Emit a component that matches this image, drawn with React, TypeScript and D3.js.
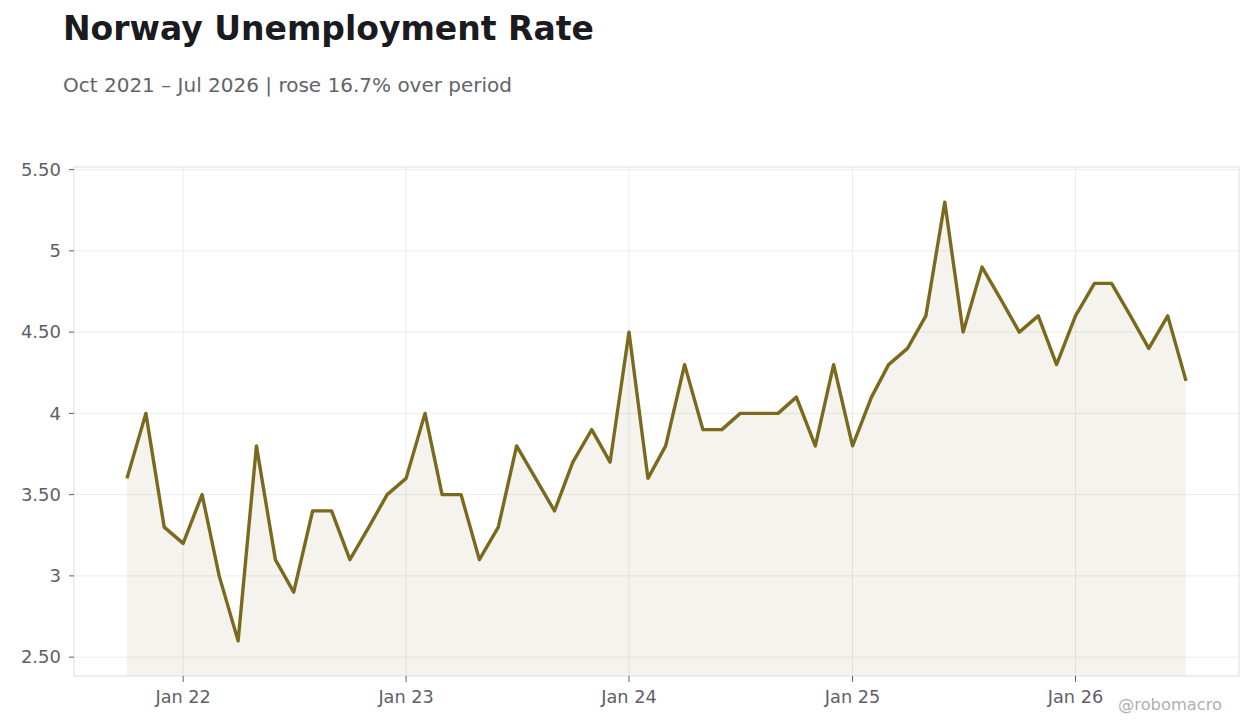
import * as d3 from "d3";
import { useEffect, useRef } from "react";

// monthly values, Oct 2021 .. Jul 2026
const startMonth = "2021-10";
const rates = [
  3.6, 4.0, 3.3, // 2021
  3.2, 3.5, 3.0, 2.6, 3.8, 3.1, 2.9, 3.4, 3.4, 3.1, 3.3, 3.5, // 2022
  3.6, 4.0, 3.5, 3.5, 3.1, 3.3, 3.8, 3.6, 3.4, 3.7, 3.9, 3.7, // 2023
  4.5, 3.6, 3.8, 4.3, 3.9, 3.9, 4.0, 4.0, 4.0, 4.1, 3.8, 4.3, // 2024
  3.8, 4.1, 4.3, 4.4, 4.6, 5.3, 4.5, 4.9, 4.7, 4.5, 4.6, 4.3, // 2025
  4.6, 4.8, 4.8, 4.6, 4.4, 4.6, 4.2, // 2026
];
const yTicks = [2.5, 3, 3.5, 4, 4.5, 5, 5.5];
const xTickDates = ["2022-01", "2023-01", "2024-01", "2025-01", "2026-01"];

const title = "Norway Unemployment Rate";
const subtitle = "Oct 2021 – Jul 2026 | rose 16.7% over period";
const credit = "@robomacro";

const W = 1260;
const H = 728;
const margin = { top: 167, right: 21, bottom: 52, left: 74 };
const lineColor = "#7b6a1e";
const font = "DejaVu Sans, sans-serif";

const parseMonth = d3.timeParse("%Y-%m");

export default function App() {
  const ref = useRef<SVGSVGElement>(null);

  useEffect(() => {
    document.body.style.margin = "0";
    const svg = d3.select(ref.current);
    svg.selectAll("*").remove();

    const start = parseMonth(startMonth)!;
    const data = rates.map((v, i) => ({ date: d3.timeMonth.offset(start, i), value: v }));

    const x0 = data[0].date.getTime();
    const x1 = data[data.length - 1].date.getTime();
    const xPad = (x1 - x0) * 0.05;
    const x = d3
      .scaleTime()
      .domain([new Date(x0 - xPad), new Date(x1 + xPad)])
      .range([margin.left, W - margin.right]);

    const [lo, hi] = d3.extent(rates) as [number, number];
    const yPad = (hi - lo) * 0.08;
    const y = d3
      .scaleLinear()
      .domain([lo - yPad, hi + yPad])
      .range([H - margin.bottom, margin.top]);

    const left = margin.left;
    const right = W - margin.right;
    const top = margin.top;
    const bottom = H - margin.bottom;

    // grid
    const grid = svg.append("g");
    grid
      .selectAll("line.h")
      .data(yTicks)
      .join("line")
      .attr("x1", left)
      .attr("x2", right)
      .attr("y1", (d) => y(d))
      .attr("y2", (d) => y(d))
      .attr("stroke", "#ebebeb")
      .attr("stroke-width", 1);
    const xTicks = xTickDates.map((s) => parseMonth(s)!);
    grid
      .selectAll("line.v")
      .data(xTicks)
      .join("line")
      .attr("x1", (d) => x(d))
      .attr("x2", (d) => x(d))
      .attr("y1", top)
      .attr("y2", bottom)
      .attr("stroke", "#ebebeb")
      .attr("stroke-width", 1);

    // area + line
    const area = d3
      .area<{ date: Date; value: number }>()
      .x((d) => x(d.date))
      .y0(bottom)
      .y1((d) => y(d.value));
    svg
      .append("path")
      .datum(data)
      .attr("d", area)
      .attr("fill", lineColor)
      .attr("fill-opacity", 0.08);

    const line = d3
      .line<{ date: Date; value: number }>()
      .x((d) => x(d.date))
      .y((d) => y(d.value));
    svg
      .append("path")
      .datum(data)
      .attr("d", line)
      .attr("fill", "none")
      .attr("stroke", lineColor)
      .attr("stroke-width", 3.4)
      .attr("stroke-linejoin", "round");

    // frame
    svg
      .append("rect")
      .attr("x", left)
      .attr("y", top)
      .attr("width", right - left)
      .attr("height", bottom - top)
      .attr("fill", "none")
      .attr("stroke", "#dcdde3")
      .attr("stroke-width", 1);

    // y axis
    const yFmt = (d: number) => (Number.isInteger(d) ? String(d) : d.toFixed(2));
    const yAxis = svg.append("g");
    yAxis
      .selectAll("line")
      .data(yTicks)
      .join("line")
      .attr("x1", left - 5)
      .attr("x2", left)
      .attr("y1", (d) => y(d))
      .attr("y2", (d) => y(d))
      .attr("stroke", "#5f6068");
    yAxis
      .selectAll("text")
      .data(yTicks)
      .join("text")
      .attr("x", left - 13)
      .attr("y", (d) => y(d))
      .attr("dy", "0.35em")
      .attr("text-anchor", "end")
      .attr("font-family", font)
      .attr("font-size", 18)
      .attr("fill", "#5f6068")
      .text(yFmt);

    // x axis
    const xAxis = svg.append("g");
    xAxis
      .selectAll("line")
      .data(xTicks)
      .join("line")
      .attr("x1", (d) => x(d))
      .attr("x2", (d) => x(d))
      .attr("y1", bottom)
      .attr("y2", bottom + 6)
      .attr("stroke", "#5f6068");
    xAxis
      .selectAll("text")
      .data(xTicks)
      .join("text")
      .attr("x", (d) => x(d))
      .attr("y", bottom + 27)
      .attr("text-anchor", "middle")
      .attr("font-family", font)
      .attr("font-size", 17.7)
      .attr("fill", "#5f6068")
      .text((d) => d3.timeFormat("%b %y")(d));

    // titles
    svg
      .append("text")
      .attr("x", 63)
      .attr("y", 40)
      .attr("font-family", font)
      .attr("font-size", 33)
      .attr("font-weight", "bold")
      .attr("fill", "#1a1a1f")
      .text(title);
    svg
      .append("text")
      .attr("x", 63)
      .attr("y", 92)
      .attr("font-family", font)
      .attr("font-size", 20)
      .attr("fill", "#62636b")
      .text(subtitle);
    svg
      .append("text")
      .attr("x", 1222)
      .attr("y", 710)
      .attr("text-anchor", "end")
      .attr("font-family", font)
      .attr("font-size", 16.3)
      .attr("fill", "#b0b0b4")
      .text(credit);
  }, []);

  return <svg ref={ref} width={W} height={H} style={{ display: "block", background: "#fff" }} />;
}
